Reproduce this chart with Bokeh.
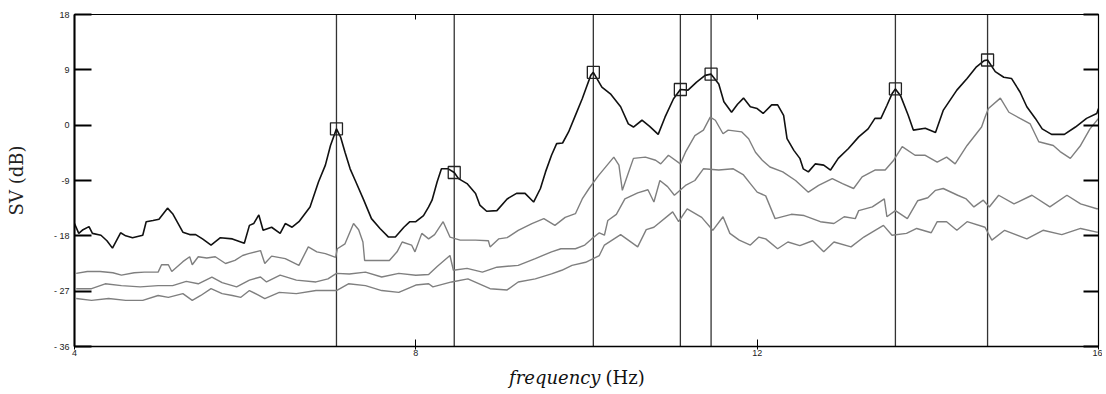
from bokeh.plotting import figure
from bokeh.models import LinearAxis, FixedTicker, Label, Range1d
from bokeh.embed import file_html
from bokeh.resources import INLINE

# ---------------- data ----------------
x_ticks = [4, 8, 12, 16]
y_ticks = [-36, -27, -18, -9, 0, 9, 18]
y_tick_labels = {-36: "- 36", -27: "- 27", -18: "- 18", -9: "-9", 0: "0", 9: "9", 18: "18"}

sv1_f = [4.00, 4.05, 4.10, 4.17, 4.21, 4.31, 4.38, 4.445, 4.54, 4.60, 4.68, 4.80, 4.84, 4.92, 4.99,
         5.09, 5.15, 5.27, 5.35, 5.42, 5.50, 5.60, 5.71, 5.85, 5.99, 6.05, 6.10, 6.16, 6.21, 6.31,
         6.41, 6.47, 6.55, 6.63, 6.76, 6.86, 6.94, 7.00, 7.07, 7.12, 7.17, 7.23, 7.29, 7.39, 7.48,
         7.58, 7.68, 7.76, 7.86, 7.93, 8.00, 8.09, 8.15, 8.19, 8.25, 8.30, 8.38, 8.45, 8.50, 8.60,
         8.70, 8.75, 8.83, 8.95, 9.07, 9.18, 9.28, 9.38, 9.46, 9.52, 9.59, 9.65, 9.72, 9.79, 9.87,
         9.95, 10.00, 10.05, 10.08, 10.18, 10.28, 10.40, 10.49, 10.55, 10.65, 10.74, 10.84, 10.92,
         11.02, 11.10, 11.19, 11.29, 11.39, 11.46, 11.55, 11.61, 11.70, 11.77, 11.84, 11.92, 12.00,
         12.07, 12.17, 12.24, 12.31, 12.35, 12.43, 12.50, 12.54, 12.60, 12.68, 12.78, 12.86, 12.95,
         13.07, 13.19, 13.30, 13.38, 13.45, 13.52, 13.58, 13.62, 13.68, 13.77, 13.83, 13.97, 14.09,
         14.18, 14.34, 14.46, 14.57, 14.66, 14.70, 14.79, 14.89, 14.98, 15.08, 15.16, 15.26, 15.34,
         15.45, 15.60, 15.73, 15.86, 15.98, 16.00]
sv1_db = [-16.0, -17.6, -17.0, -16.5, -17.6, -17.9, -18.8, -20.0, -17.5, -18.0, -18.3, -17.9, -15.7, -15.5, -15.3,
          -13.5, -14.4, -17.4, -17.8, -17.8, -18.5, -19.5, -18.3, -18.5, -19.2, -16.3, -16.0, -14.6, -17.1, -16.6,
          -17.6, -16.0, -16.6, -15.7, -13.3, -9.2, -6.5, -3.3, -0.6, -2.0, -4.4, -7.1, -9.0, -12.2, -15.2,
          -16.8, -18.2, -18.2, -16.6, -15.7, -15.7, -14.7, -13.3, -12.2, -9.2, -7.1, -7.1, -7.7, -8.7, -9.5,
          -11.1, -13.0, -14.0, -13.9, -12.0, -11.1, -11.1, -12.5, -10.3, -7.6, -4.9, -3.0, -2.9, -1.1, 1.6,
          4.3, 6.2, 8.1, 8.6, 6.2, 5.1, 3.0, 0.2, -0.3, 0.8, -0.2, -1.5, 1.3,
          4.3, 5.8, 5.7, 7.0, 8.1, 8.3, 6.7, 3.8, 2.1, 3.4, 4.4, 3.0, 2.7,
          1.9, 3.3, 3.3, 1.6, -2.2, -4.1, -5.4, -7.1, -7.6, -6.3, -6.5, -7.3, -5.4,
          -3.8, -1.9, -0.6, 1.1, 1.1, 3.2, 5.1, 5.9, 4.8, 1.6, -0.8, -0.5, -1.2,
          2.4, 5.7, 7.6, 9.5, 10.5, 10.6, 8.7, 7.8, 7.6, 5.4, 3.0, 1.1, -0.6,
          -1.5, -1.5, -0.3, 1.1, 1.9, 2.7]

sv2_f = [4.02, 4.15, 4.30, 4.45, 4.55, 4.70, 4.82, 4.98, 5.02, 5.10, 5.14, 5.27, 5.35, 5.38, 5.45,
         5.55, 5.65, 5.77, 5.88, 5.97, 6.04, 6.18, 6.23, 6.31, 6.47, 6.63, 6.74, 6.84, 6.94, 7.06,
         7.08, 7.17, 7.27, 7.33, 7.38, 7.40, 7.55, 7.69, 7.78, 7.84, 7.95, 7.99, 8.07, 8.15, 8.22,
         8.32, 8.40, 8.52, 8.70, 8.85, 8.87, 8.97, 9.07, 9.20, 9.36, 9.50, 9.63, 9.75, 9.87, 9.95,
         10.03, 10.14, 10.32, 10.38, 10.42, 10.48, 10.55, 10.69, 10.81, 10.87, 10.96, 11.10, 11.16,
         11.27, 11.37, 11.45, 11.51, 11.60, 11.66, 11.82, 11.90, 11.98, 12.06, 12.15, 12.30, 12.45,
         12.60, 12.72, 12.88, 13.00, 13.13, 13.23, 13.38, 13.50, 13.60, 13.70, 13.85, 13.97, 14.11,
         14.22, 14.32, 14.46, 14.63, 14.67, 14.71, 14.85, 14.95, 15.08, 15.20, 15.30, 15.47, 15.55,
         15.67, 15.79, 15.90, 16.00]
sv2_db = [-24.1, -23.8, -23.8, -24.0, -24.4, -24.0, -23.9, -23.9, -22.7, -22.7, -23.8, -22.2, -21.4, -22.7, -21.4,
          -21.6, -21.4, -22.5, -22.0, -21.2, -20.9, -20.4, -22.5, -21.3, -21.7, -22.8, -19.8, -20.6, -20.9, -21.5,
          -20.1, -19.3, -16.0, -17.0, -19.0, -22.0, -22.0, -22.0, -20.6, -19.0, -19.5, -20.6, -17.6, -18.5, -17.8,
          -15.7, -18.2, -18.7, -18.7, -18.8, -19.8, -18.5, -18.3, -17.1, -16.0, -15.2, -16.3, -15.0, -14.4, -12.0,
          -10.3, -8.2, -5.2, -6.5, -10.6, -8.2, -5.4, -5.2, -5.7, -6.3, -4.9, -6.3, -4.4,
          -1.7, -0.8, 1.3, 0.8, -1.4, -0.8, -1.1, -2.2, -4.4, -5.7, -6.8, -7.6, -9.0,
          -10.9, -9.8, -8.7, -9.5, -10.3, -8.4, -7.3, -7.3, -5.7, -3.5, -4.9, -4.9, -6.0,
          -5.2, -6.3, -3.3, -0.3, 1.3, 2.7, 4.4, 2.1, 1.1, 0.2, -2.7, -3.3, -4.3,
          -5.4, -3.3, -0.6, 1.1]

sv3_f = [4.02, 4.20, 4.36, 4.55, 4.77, 4.98, 5.15, 5.31, 5.45, 5.61, 5.73, 5.90, 6.05, 6.18, 6.25,
         6.41, 6.60, 6.83, 6.97, 7.07, 7.22, 7.41, 7.60, 7.80, 8.00, 8.15, 8.25, 8.40, 8.44, 8.60,
         8.78, 8.95, 9.20, 9.40, 9.59, 9.70, 9.87, 9.98, 10.06, 10.15, 10.21, 10.25, 10.35, 10.45,
         10.60, 10.72, 10.79, 10.86, 10.95, 11.03, 11.16, 11.27, 11.37, 11.55, 11.72, 11.84, 11.92,
         12.00, 12.10, 12.21, 12.40, 12.55, 12.74, 12.90, 13.02, 13.15, 13.19, 13.35, 13.49, 13.52,
         13.62, 13.76, 13.88, 14.00, 14.09, 14.18, 14.35, 14.45, 14.54, 14.65, 14.72, 14.83, 15.01,
         15.22, 15.43, 15.63, 15.79, 15.98, 16.00]
sv3_db = [-26.6, -26.6, -25.8, -26.1, -26.3, -26.1, -26.1, -25.4, -25.8, -24.7, -25.6, -26.3, -25.2, -24.7, -25.5,
          -24.4, -25.2, -25.5, -25.0, -24.1, -24.2, -23.9, -24.7, -24.1, -24.4, -24.3, -23.0, -21.2, -23.6, -23.3,
          -23.9, -23.1, -22.8, -21.7, -20.6, -20.1, -20.1, -19.5, -18.5, -17.5, -17.9, -15.5, -14.5, -12.0,
          -11.0, -10.5, -12.5, -9.0, -10.0, -11.4, -9.8, -9.0, -7.1, -7.3, -7.1, -8.1, -9.5,
          -10.9, -11.5, -15.2, -14.5, -14.7, -15.7, -16.0, -14.9, -15.2, -13.9, -13.3, -12.0, -14.9,
          -13.9, -15.2, -12.3, -11.8, -10.6, -10.3, -11.4, -12.0, -13.3, -12.2, -13.3, -11.4, -12.8,
          -11.4, -13.3, -11.4, -12.8, -13.6, -13.6]

sv4_f = [4.02, 4.20, 4.40, 4.60, 4.80, 4.98, 5.10, 5.27, 5.38, 5.48, 5.60, 5.73, 5.85, 5.95, 6.05,
         6.15, 6.23, 6.40, 6.60, 6.83, 7.07, 7.21, 7.41, 7.60, 7.80, 8.00, 8.15, 8.20, 8.42, 8.61,
         8.87, 9.07, 9.20, 9.40, 9.59, 9.71, 9.83, 9.99, 10.15, 10.21, 10.40, 10.60, 10.70, 10.79,
         11.01, 11.08, 11.18, 11.35, 11.48, 11.60, 11.68, 11.79, 11.92, 12.02, 12.10, 12.24, 12.36,
         12.50, 12.65, 12.78, 12.90, 13.10, 13.25, 13.48, 13.58, 13.75, 13.87, 14.04, 14.11, 14.22,
         14.34, 14.46, 14.67, 14.75, 14.90, 15.16, 15.35, 15.57, 15.79, 15.98, 16.00]
sv4_db = [-28.2, -28.5, -28.2, -28.5, -28.5, -27.7, -28.0, -27.4, -28.5, -27.7, -26.6, -27.4, -27.7, -28.0, -26.9,
          -27.6, -28.2, -27.2, -27.4, -26.9, -26.9, -25.8, -26.1, -26.9, -27.2, -26.0, -25.8, -26.3, -25.5, -25.0,
          -26.6, -26.8, -25.5, -25.0, -24.2, -23.6, -22.8, -22.3, -21.2, -19.5, -17.8, -19.8, -17.0, -16.6,
          -14.1, -15.7, -13.6, -15.0, -17.1, -14.9, -17.6, -18.7, -19.5, -18.2, -18.5, -20.1, -19.0,
          -19.6, -18.8, -20.6, -19.0, -19.8, -18.2, -16.3, -17.9, -17.6, -16.8, -17.5, -15.7, -15.7,
          -17.1, -15.7, -16.6, -18.7, -17.1, -18.5, -17.1, -17.8, -16.8, -17.4, -17.4]

peak_f = [7.07, 8.45, 10.08, 11.10, 11.46, 13.62, 14.70]
peak_db = [-0.6, -7.7, 8.6, 5.8, 8.3, 5.9, 10.6]

X_MIN, X_MAX = 4, 16
Y_MIN, Y_MAX = -36, 18

# ---------------- figure ----------------
p = figure(frame_width=1024, frame_height=332,
           x_range=Range1d(X_MIN, X_MAX), y_range=Range1d(Y_MIN, Y_MAX),
           output_backend="svg", toolbar_location=None,
           min_border_left=74, min_border_right=4, min_border_top=14, min_border_bottom=20,
           background_fill_color="white", border_fill_color="white")
p.grid.visible = False
p.outline_line_color = "black"
p.outline_line_width = 1.2

tick_font = "Liberation Sans"

xa = p.xaxis[0]
xa.ticker = FixedTicker(ticks=x_ticks)
xa.major_tick_in = 7
xa.major_tick_out = 3
xa.minor_tick_line_color = None
xa.axis_line_color = "black"
xa.axis_line_width = 1.5
xa.major_label_text_font = tick_font
xa.major_label_text_font_size = "9px"
xa.major_label_text_color = "#222222"
xa.major_label_standoff = 0
xa.axis_label = None

ya = p.yaxis[0]
ya.ticker = FixedTicker(ticks=y_ticks)
ya.major_label_overrides = y_tick_labels
ya.major_tick_in = 17
ya.major_tick_out = 0
ya.minor_tick_line_color = None
ya.axis_line_color = "black"
ya.axis_line_width = 2
ya.major_tick_line_width = 2
ya.major_label_text_font = tick_font
ya.major_label_text_font_size = "9px"
ya.major_label_text_color = "#222222"
ya.major_label_standoff = 5
ya.axis_label = "SV (dB)"
ya.axis_label_text_font = "DejaVu Serif"
ya.axis_label_text_font_style = "normal"
ya.axis_label_text_font_size = "18px"
ya.axis_label_text_color = "#222222"
ya.axis_label_standoff = 24

ra = LinearAxis(ticker=FixedTicker(ticks=y_ticks), major_tick_in=15, major_tick_out=0,
                minor_tick_line_color=None, major_label_text_color=None,
                major_label_text_font_size="1px", axis_line_color="black",
                major_tick_line_width=2, major_label_standoff=0)
p.add_layout(ra, "right")

ta = LinearAxis(ticker=FixedTicker(ticks=x_ticks), major_tick_in=5, major_tick_out=0,
                minor_tick_line_color=None, major_label_text_color=None,
                major_label_text_font_size="1px", axis_line_color="black",
                major_label_standoff=0)
p.add_layout(ta, "above")

p.segment(x0=peak_f, x1=peak_f, y0=[Y_MIN] * len(peak_f), y1=[Y_MAX] * len(peak_f),
          line_color="#333333", line_width=1.3)

grey = "#7f7f7f"
p.line(sv4_f, sv4_db, line_color=grey, line_width=1.4)
p.line(sv3_f, sv3_db, line_color=grey, line_width=1.4)
p.line(sv2_f, sv2_db, line_color=grey, line_width=1.4)
p.line(sv1_f, sv1_db, line_color="#111111", line_width=1.6)

p.scatter(peak_f, peak_db, marker="square", size=12, fill_color=None,
          line_color="#222222", line_width=1.3)

# x axis title in the side panels below: italic "frequency" + upright "(Hz)"
LAB_FONT = "DejaVu Serif"
lab1 = Label(x=526, y=2, x_units="screen", y_units="screen", text="frequency",
             text_align="right", text_baseline="alphabetic",
             text_font=LAB_FONT, text_font_style="italic", text_font_size="18px",
             text_color="#111111")
lab2 = Label(x=531, y=2 + 21, x_units="screen", y_units="screen", text="(Hz)",
             text_align="left", text_baseline="alphabetic",
             text_font=LAB_FONT, text_font_style="normal", text_font_size="18px",
             text_color="#111111")
p.add_layout(lab1, "below")
p.add_layout(lab2, "below")

open("out.html", "w").write(file_html(p, INLINE))
